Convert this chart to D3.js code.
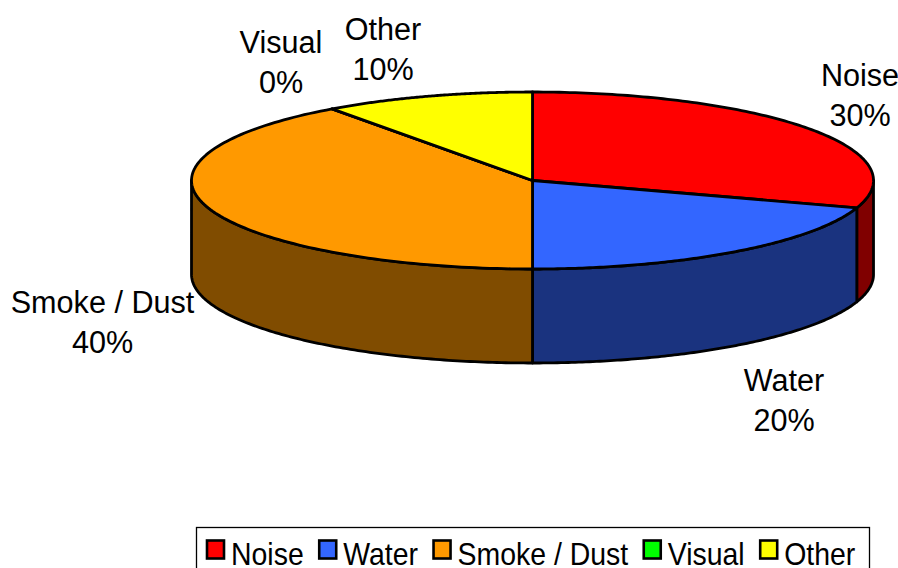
<!DOCTYPE html>
<html><head><meta charset="utf-8">
<script src="https://cdn.jsdelivr.net/npm/d3@7/dist/d3.min.js"></script>
<style>html,body{margin:0;padding:0;background:#fff}svg{display:block}text{font-family:"Liberation Sans",Arial,sans-serif;fill:#000}</style>
</head><body><svg id="c" width="898" height="568"></svg>
<script>
const categories = ["Noise","Water","Smoke / Dust","Visual","Other"];
const values = [30,20,40,0,10];
const topColors = ["#FF0000","#3366FF","#FF9900","#00FF00","#FFFF00"];
const sideColors = ["#800000","#1A337F","#804C00","#008000","#808000"];
const labelX = [860,784,102.5,281,383];
const labelY = [85.5,391,312.5,53,39.5];

const W=898,H=568,cx=532.5,cy=180.5,rx=341,ry=88.5,depth=94;
const svg=d3.select("#c");
const slices=d3.pie().value(d=>d).sort(null)(values);
const px=a=>cx+rx*Math.sin(a), py=a=>cy-ry*Math.cos(a);
const line=d3.line();
const sw=2.8;
const arcPts=(a0,a1,dy=0)=>d3.range(0,121).map(i=>{const a=a0+(a1-a0)*i/120;return [px(a),py(a)+dy];});

const g=svg.append("g").attr("stroke","#000").attr("stroke-width",sw).attr("stroke-linejoin","round");
slices.forEach((s,i)=>{
  const a0=Math.max(s.startAngle,Math.PI/2), a1=Math.min(s.endAngle,Math.PI*1.5);
  if(a1<=a0) return;
  const pts=arcPts(a0,a1).concat(arcPts(a0,a1,depth).reverse());
  g.append("path").attr("d",line(pts)+"Z").attr("fill",sideColors[i]);
});
slices.forEach((s,i)=>{
  const pts=[[cx,cy]].concat(arcPts(s.startAngle,s.endAngle));
  g.append("path").attr("d",line(pts)+"Z").attr("fill",topColors[i]);
});
categories.forEach((c,i)=>{
  const t=svg.append("text").attr("text-anchor","middle").attr("font-size",30.6);
  t.append("tspan").attr("x",labelX[i]).attr("y",labelY[i]).text(c);
  t.append("tspan").attr("x",labelX[i]).attr("y",labelY[i]+40).text(values[i]+"%");
});
const lg=svg.append("g");
lg.append("rect").attr("x",196.5).attr("y",527.5).attr("width",673).attr("height",60).attr("fill","#fff").attr("stroke","#000").attr("stroke-width",1.3);
let x=206;
const sx=0.93;
categories.forEach((c,i)=>{
  lg.append("rect").attr("x",x+1).attr("y",540.5).attr("width",17).attr("height",18).attr("fill",topColors[i]).attr("stroke","#000").attr("stroke-width",2.6);
  const t=lg.append("text").attr("transform",`translate(${x+25},565) scale(${sx},1)`).attr("font-size",30.6).text(c);
  x+=25+t.node().getComputedTextLength()*sx+14.5;
});
</script></body></html>
